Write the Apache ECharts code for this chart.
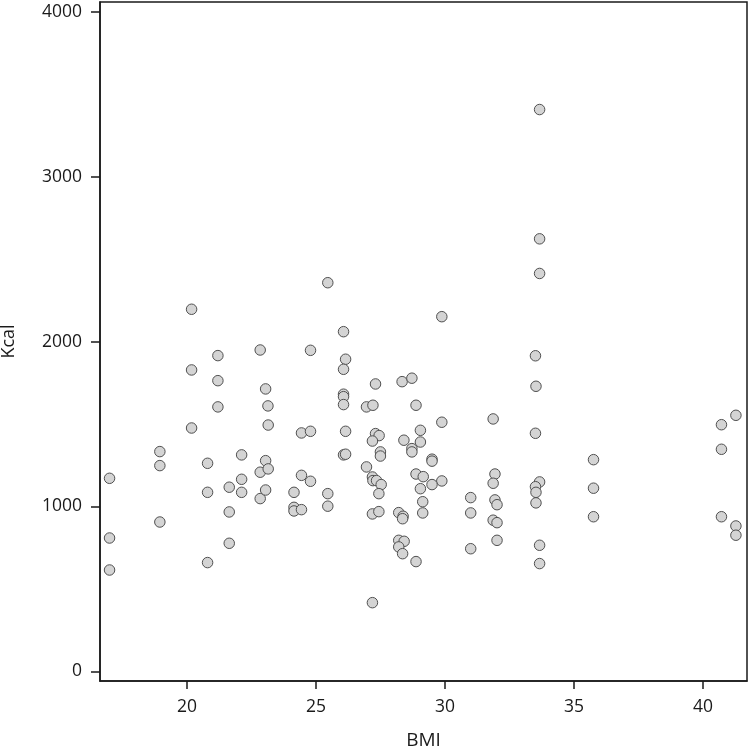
<!DOCTYPE html>
<html>
<head>
<meta charset="utf-8">
<script src="https://cdn.jsdelivr.net/npm/echarts@6/dist/echarts.min.js"></script>
<style>html,body{margin:0;padding:0;background:#fff;}#chart{width:750px;height:750px;}</style>
</head>
<body>
<div id="chart"></div>
<script>
const bmi = [
  17.00, 17.00, 17.00, 18.95, 18.95, 18.95, 20.18, 20.18, 20.18, 20.80,
  20.80, 20.80, 21.20, 21.20, 21.20, 21.64, 21.64, 21.64, 22.12, 22.12,
  22.12, 22.84, 22.84, 22.84, 23.05, 23.05, 23.05, 23.14, 23.15, 23.15,
  24.15, 24.15, 24.15, 24.44, 24.79, 24.44, 24.79, 24.44, 24.79,
  25.46, 29.88, 26.07, 26.15, 26.07, 27.31, 28.34, 28.72, 26.07, 26.07,
  26.07, 26.96, 27.21, 28.88, 29.88, 31.87, 26.15, 27.31, 27.45, 27.19,
  28.41, 29.05, 29.05, 28.72, 28.72, 27.50, 27.50, 26.07, 26.15, 29.50,
  29.50, 26.96, 27.19, 27.21, 27.35, 27.53, 28.88, 29.16, 29.88, 29.50,
  29.05, 31.94, 31.87, 25.46, 27.44, 31.00, 31.94, 32.02, 29.14, 25.46,
  27.19, 27.44, 28.21, 28.38, 28.36, 29.14, 31.00, 31.87, 32.02, 32.02,
  28.21, 28.42, 28.21, 28.36, 28.88, 31.00, 27.19,
  33.67, 33.67, 33.67, 33.51, 33.53, 33.51, 33.67, 33.51, 33.53, 33.53,
  33.67, 33.67, 35.76, 35.76, 35.76, 40.72, 41.28, 40.72, 40.72, 41.28,
  41.28
];
const kcal = [
  1171, 809, 615, 1333, 1248, 906, 2196, 1828, 1476, 1262,
  1086, 660, 1915, 1763, 1604, 1117, 967, 777, 1313, 1165,
  1086, 1949, 1208, 1048, 1713, 1278, 1100, 1610, 1494, 1228,
  1086, 995, 973, 1446, 1456, 1189, 1153, 981, 1947,
  2357, 2151, 2060, 1893, 1832, 1743, 1757, 1778, 1681, 1666,
  1618, 1604, 1614, 1614, 1511, 1531, 1456, 1442, 1430, 1397,
  1402, 1462, 1391, 1351, 1331, 1331, 1306, 1313, 1317, 1287,
  1275, 1240, 1179, 1157, 1157, 1133, 1197, 1181, 1155, 1133,
  1108, 1197, 1141, 1078, 1078, 1054, 1040, 1011, 1029, 1002,
  955, 969, 963, 941, 926, 961, 961, 917, 902, 795,
  795, 789, 755, 714, 666, 744, 417,
  3407, 2623, 2413, 1914, 1729, 1444, 1149, 1120, 1086, 1022,
  765, 654, 1284, 1111, 938, 1496, 1553, 1347, 938, 882,
  826
];
const xTicks = [20, 25, 30, 35, 40];
const yTicks = [0, 1000, 2000, 3000, 4000];

const points = bmi.map((b, i) => [b, kcal[i]]);
const chart = echarts.init(document.getElementById('chart'));
const font = '"Open Sans", sans-serif';
chart.setOption({
  animation: false,
  backgroundColor: '#ffffff',
  grid: { left: 100, right: 3, top: 2, bottom: 69, containLabel: false, outerBoundsMode: 'none',
          show: true, borderColor: '#1a1a1a', borderWidth: 1.5, backgroundColor: 'transparent' },
  xAxis: {
    type: 'value', min: 16.63, max: 41.71,
    name: 'BMI', nameLocation: 'middle', nameGap: 50,
    nameTextStyle: { fontFamily: font, fontSize: 19, color: '#1a1a1a' },
    axisLine: { show: true, onZero: false, lineStyle: { color: '#1a1a1a', width: 1.5 } },
    axisTick: { show: true, length: 8, customValues: xTicks, lineStyle: { color: '#1a1a1a', width: 1.5 } },
    axisLabel: { customValues: xTicks, margin: 17, fontFamily: font, fontSize: 17.5, color: '#1a1a1a',
                 formatter: v => String(v) },
    splitLine: { show: false }
  },
  yAxis: {
    type: 'value', min: -58, max: 4059,
    name: 'Kcal', nameLocation: 'middle', nameGap: 82,
    nameTextStyle: { fontFamily: font, fontSize: 18, color: '#1a1a1a' },
    axisLine: { show: true, onZero: false, lineStyle: { color: '#1a1a1a', width: 1.5 } },
    axisTick: { show: true, length: 9, customValues: yTicks, lineStyle: { color: '#1a1a1a', width: 1.5 } },
    axisLabel: { customValues: yTicks, margin: 18, fontFamily: font, fontSize: 17.5, color: '#1a1a1a',
                 formatter: v => String(v) },
    splitLine: { show: false }
  },
  series: [{
    type: 'scatter',
    data: points,
    symbol: 'circle',
    symbolSize: 10.5,
    itemStyle: { color: '#d4d4d4', borderColor: '#505050', borderWidth: 1, opacity: 1 }
  }]
});
</script>
</body>
</html>
